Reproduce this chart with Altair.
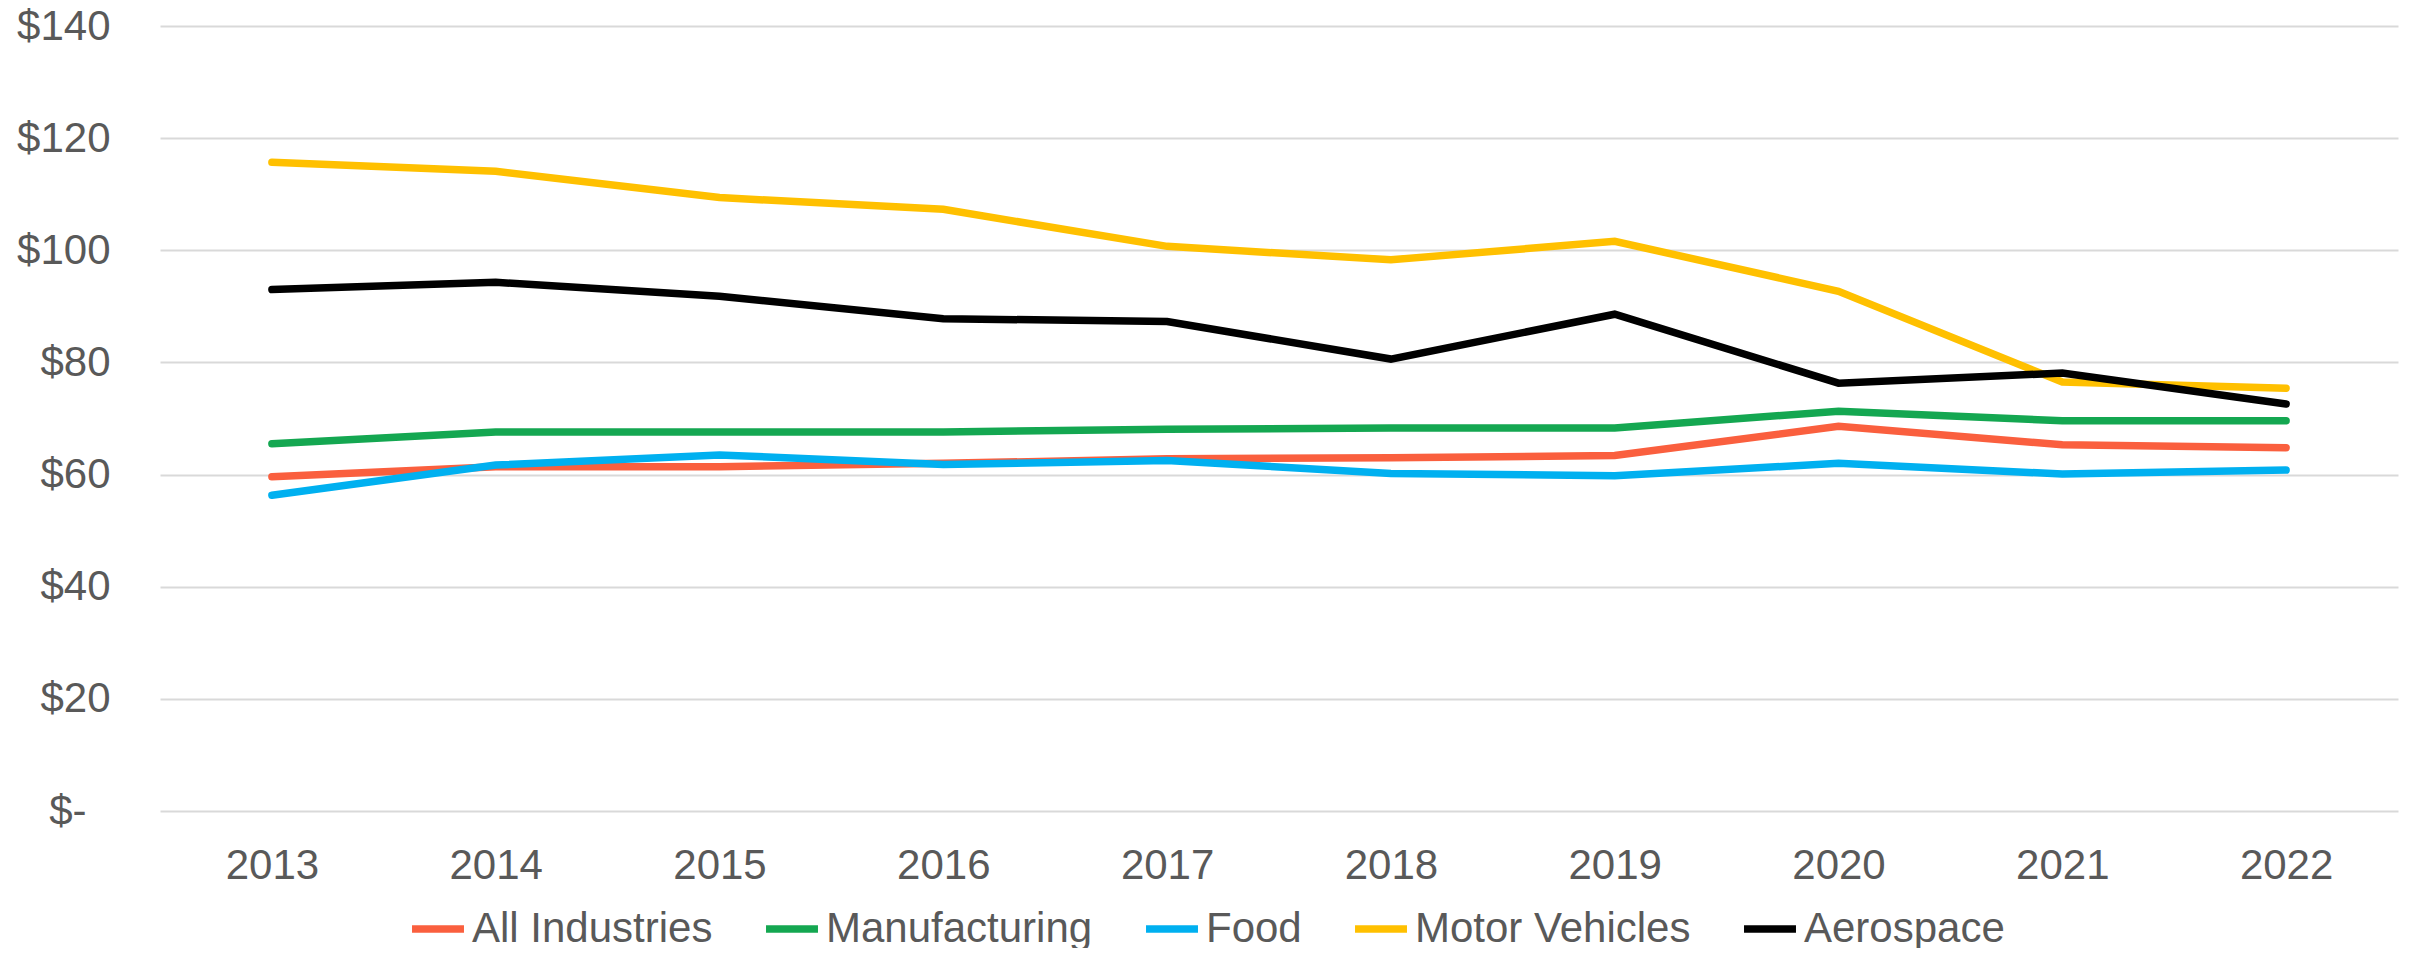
import altair as alt
import pandas as pd

years = ["2013", "2014", "2015", "2016", "2017", "2018", "2019", "2020", "2021", "2022"]
series_names = ["All Industries", "Manufacturing", "Food", "Motor Vehicles", "Aerospace"]
all_industries = [59.6, 61.4, 61.4, 62.0, 62.8, 63.0, 63.4, 68.6, 65.3, 64.8]
manufacturing = [65.5, 67.6, 67.6, 67.6, 68.1, 68.3, 68.3, 71.3, 69.6, 69.6]
food = [56.3, 61.7, 63.5, 61.8, 62.5, 60.2, 59.8, 62.0, 60.1, 60.8]
motor_vehicles = [115.7, 114.1, 109.4, 107.3, 100.7, 98.3, 101.6, 92.7, 76.5, 75.4]
aerospace = [93.0, 94.3, 91.8, 87.8, 87.3, 80.6, 88.6, 76.3, 78.1, 72.6]
colors = ["#FA5F3E", "#14A751", "#00B0F0", "#FFC000", "#000000"]
y_ticks = [0, 20, 40, 60, 80, 100, 120, 140]

values = [all_industries, manufacturing, food, motor_vehicles, aerospace]
rows = []
for name, vals in zip(series_names, values):
    for y, v in zip(years, vals):
        rows.append({"Year": y, "Series": name, "Value": v})
df = pd.DataFrame(rows)

FONT = "Liberation Sans"
GREY = "#595959"

chart = (
    alt.Chart(df)
    .mark_line(strokeWidth=7.5, strokeCap="round", strokeJoin="miter")
    .encode(
        x=alt.X(
            "Year:O",
            sort=years,
            scale=alt.Scale(type="point", padding=0.5),
            axis=alt.Axis(
                title=None, labelAngle=0, ticks=False, domain=False, grid=False,
                labelFontSize=42, labelColor=GREY, labelFont=FONT, labelPadding=34,
            ),
        ),
        y=alt.Y(
            "Value:Q",
            scale=alt.Scale(domain=[0, 140], nice=False),
            axis=alt.Axis(
                title=None, values=y_ticks, ticks=False, domain=False,
                gridColor="#D9D9D9", gridWidth=2,
                labelFontSize=42, labelColor=GREY, labelFont=FONT,
                labelPadding={"condition": {"test": "datum.value === 0", "value": 74}, "value": 50},
                labelExpr="datum.value == 0 ? '$-' : '$' + datum.value",
            ),
        ),
        color=alt.Color(
            "Series:N",
            sort=series_names,
            scale=alt.Scale(domain=series_names, range=colors),
            legend=alt.Legend(
                title=None, orient="none", direction="horizontal",
                legendX=248, legendY=873,
                symbolType="stroke", symbolStrokeWidth=7.3, symbolSize=2700,
                labelFontSize=42, labelColor=GREY, labelFont=FONT,
                labelLimit=1000, columnPadding=38, labelOffset=4,
            ),
        ),
    )
    .properties(
        width=2238,
        height=785,
        autosize=alt.AutoSizeParams(type="none"),
        padding={"left": 152, "top": 18, "right": 4, "bottom": 137},
    )
    .configure_view(stroke=None)
)

chart.save("out.html", embed_options={"renderer": "svg", "actions": False})
